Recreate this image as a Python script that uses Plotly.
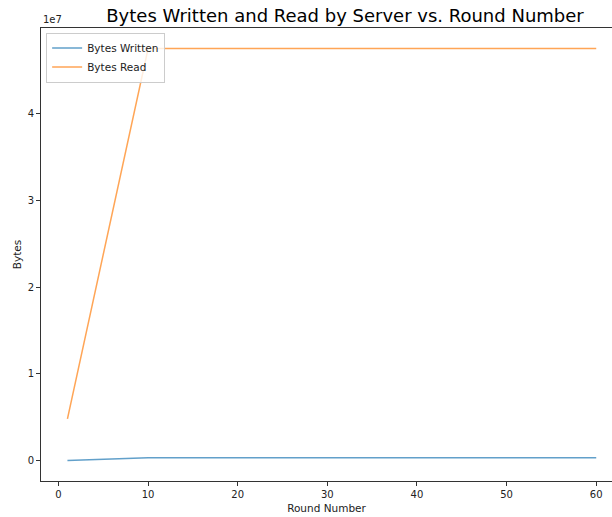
import plotly.graph_objects as go

rounds = [1, 10, 20, 30, 40, 50, 60]
bytes_written = [0.0e7, 0.03e7, 0.03e7, 0.03e7, 0.03e7, 0.03e7, 0.03e7]
bytes_read = [0.48e7, 4.75e7, 4.75e7, 4.75e7, 4.75e7, 4.75e7, 4.75e7]
x_ticks = [0, 10, 20, 30, 40, 50, 60]
y_ticks = [0, 1e7, 2e7, 3e7, 4e7]
y_tick_labels = ["0", "1", "2", "3", "4"]

FONT = "DejaVu Sans"

fig = go.Figure()
fig.add_trace(go.Scatter(x=rounds, y=bytes_written, mode="lines", name="Bytes Written",
                         line=dict(color="rgba(31,119,180,0.7)", width=1.5)))
fig.add_trace(go.Scatter(x=rounds, y=bytes_read, mode="lines", name="Bytes Read",
                         line=dict(color="rgba(255,127,14,0.7)", width=1.5)))

fig.update_layout(
    width=612, height=517,
    margin=dict(l=41, r=0, t=28, b=36, autoexpand=False),
    paper_bgcolor="white", plot_bgcolor="white",
    font=dict(family=FONT, size=10, color="#222"),
    title=dict(text="Bytes Written and Read by Server vs. Round Number",
               x=345 / 612, xref="container", xanchor="center", y=1 - 16 / 517,
               yref="container", yanchor="middle", font=dict(size=18, color="black")),
    showlegend=True,
    legend=dict(x=0.009, y=0.99, xanchor="left", yanchor="top",
                bgcolor="rgba(255,255,255,0.8)", bordercolor="#ccc", borderwidth=1,
                font=dict(size=10.5, color="#222"), tracegroupgap=0, itemwidth=30),
    xaxis=dict(range=[-1.95, 61.76], tickvals=x_ticks, ticks="outside", ticklen=4,
               tickcolor="#333", showgrid=False, zeroline=False, showline=True,
               linecolor="#333", linewidth=1, mirror=True, automargin=False,
               title=dict(text="Round Number", standoff=5, font=dict(size=10.5))),
    yaxis=dict(range=[-0.2375e7, 4.9875e7], tickvals=y_ticks, ticktext=y_tick_labels,
               ticks="outside", ticklen=4, tickcolor="#333", showgrid=False,
               zeroline=False, showline=True, linecolor="#333", linewidth=1,
               mirror=False, automargin=False,
               title=dict(text="Bytes", standoff=3, font=dict(size=10.5))),
)
fig.add_annotation(text="1e7", xref="paper", yref="paper", x=0, y=1.0,
                   xanchor="left", yanchor="bottom", showarrow=False,
                   font=dict(size=10, color="#222"), yshift=1)

fig.write_html("out.html", config={"displayModeBar": False},
               post_script="document.body.style.margin='0px';document.body.style.overflow='hidden';")
